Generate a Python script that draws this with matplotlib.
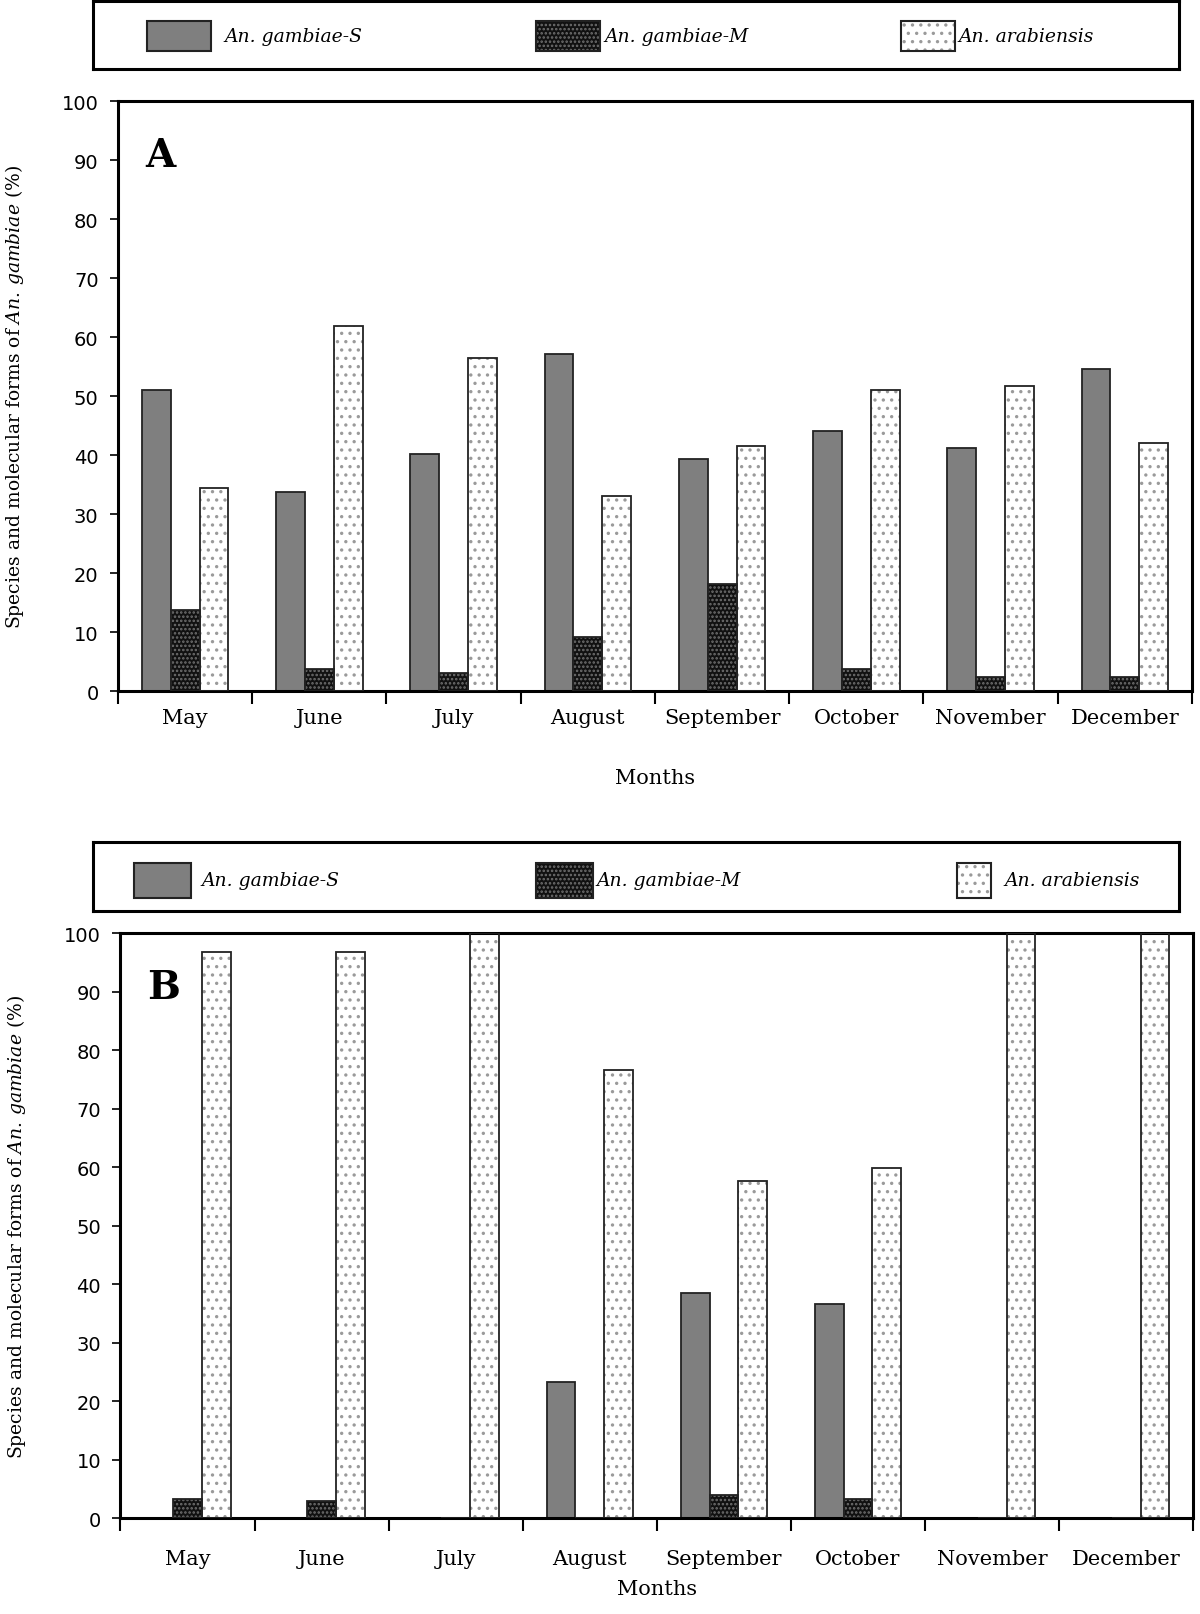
import matplotlib
matplotlib.use("Agg")
import matplotlib.pyplot as plt
import numpy as np
from matplotlib.patches import Rectangle

months = ["May", "June", "July", "August", "September", "October", "November", "December"]
species = ["An. gambiae-S", "An. gambiae-M", "An. arabiensis"]

# panel A
a_gambiae_s = [51.0, 33.8, 40.1, 57.2, 39.3, 44.0, 41.2, 54.5]
a_gambiae_m = [13.8, 3.8, 3.0, 9.1, 18.2, 3.8, 2.3, 2.3]
a_arabiensis = [34.4, 61.8, 56.4, 33.0, 41.5, 51.1, 51.7, 42.1]

# panel B
b_gambiae_s = [0, 0, 0, 23.2, 38.4, 36.6, 0, 0]
b_gambiae_m = [3.2, 3.0, 0, 0, 3.9, 3.2, 0, 0]
b_arabiensis = [96.7, 96.8, 100, 76.6, 57.6, 59.9, 100, 100]

yticks = list(range(0, 101, 10))

plt.rcParams["hatch.linewidth"] = 1.2
plt.rcParams["mathtext.fontset"] = "custom"
plt.rcParams["mathtext.rm"] = "DejaVu Serif"
plt.rcParams["mathtext.it"] = "DejaVu Serif:italic"

styles = [
    dict(face="#7f7f7f", hatch=None, hcolor=None),
    dict(face="#111111", hatch="....", hcolor="#707070"),
    dict(face="white", hatch="..", hcolor="#9a9a9a"),
]


def draw_bars(ax, x, vals, st, w):
    if st["hatch"]:
        ax.bar(x, vals, w, color=st["face"], edgecolor=st["hcolor"], hatch=st["hatch"],
               linewidth=0, zorder=2)
        ax.bar(x, vals, w, fill=False, edgecolor="#222222", linewidth=1.3, zorder=3)
    else:
        ax.bar(x, vals, w, color=st["face"], edgecolor="#222222", linewidth=1.3, zorder=2)


def panel(ax, series, letter, label_pad, xlabel_pad):
    n = len(months)
    x = np.arange(n) + 0.5
    w = 0.215
    for k, vals in enumerate(series):
        draw_bars(ax, x + (k - 1) * w, vals, styles[k], w)
    ax.set_xlim(0, n)
    ax.set_ylim(0, 100)
    ax.set_xticks(np.arange(n + 1))
    ax.set_xticklabels([])
    ax.set_xticks(x, minor=True)
    ax.set_xticklabels(months, minor=True, fontsize=15, family="DejaVu Serif")
    ax.tick_params(axis="x", which="minor", length=0, pad=label_pad)
    ax.tick_params(axis="x", which="major", length=9, width=1.5, direction="out")
    ax.set_yticks(yticks)
    ax.tick_params(axis="y", length=6, width=1.2, labelsize=14, pad=8)
    for s in ax.spines.values():
        s.set_linewidth(2.2)
    ax.set_ylabel(r"Species and molecular forms of $\it{An.\,gambiae}$ (%)",
                  fontsize=13.5, family="DejaVu Serif", labelpad=26)
    ax.set_xlabel("Months", fontsize=15, family="DejaVu Serif", labelpad=xlabel_pad)
    ax.text(0.025, 0.94, letter, transform=ax.transAxes, fontsize=28, fontweight="bold",
            family="DejaVu Serif", va="top", ha="left")


def legend_box(rect, layout):
    lax = fig.add_axes(rect)
    lax.set_xlim(0, 1)
    lax.set_ylim(0, 1)
    lax.set_xticks([])
    lax.set_yticks([])
    for s in lax.spines.values():
        s.set_linewidth(2.2)
    for k, (px, pw, tx, y0, y1) in enumerate(layout):
        st = styles[k]
        if st["hatch"]:
            lax.add_patch(Rectangle((px, y0), pw, y1 - y0, facecolor=st["face"],
                                    edgecolor=st["hcolor"], hatch=st["hatch"], linewidth=0))
            lax.add_patch(Rectangle((px, y0), pw, y1 - y0, fill=False, edgecolor="#222222",
                                    linewidth=1.5))
        else:
            lax.add_patch(Rectangle((px, y0), pw, y1 - y0, facecolor=st["face"],
                                    edgecolor="#222222", linewidth=1.5))
        lax.text(tx, (y0 + y1) / 2, species[k], fontsize=13.5, style="italic",
                 family="DejaVu Serif", va="center", ha="left")


fig = plt.figure(figsize=(12, 16.15), dpi=100)

ax_a = fig.add_axes([0.0983, 0.5715, 0.895, 0.3653])
panel(ax_a, [a_gambiae_s, a_gambiae_m, a_arabiensis], "A", 12, 30)
legend_box([0.0775, 0.9567, 0.905, 0.042],
           [(0.050, 0.059, 0.121, 0.27, 0.70),
            (0.408, 0.059, 0.471, 0.27, 0.70),
            (0.744, 0.050, 0.797, 0.27, 0.70)])

ax_b = fig.add_axes([0.1004, 0.0594, 0.894, 0.3622])
panel(ax_b, [b_gambiae_s, b_gambiae_m, b_arabiensis], "B", 22, 8)
legend_box([0.0775, 0.4353, 0.905, 0.0427],
           [(0.038, 0.052, 0.0995, 0.19, 0.70),
            (0.408, 0.052, 0.464, 0.19, 0.70),
            (0.796, 0.031, 0.839, 0.19, 0.70)])

fig.savefig("out.png", dpi=100)
